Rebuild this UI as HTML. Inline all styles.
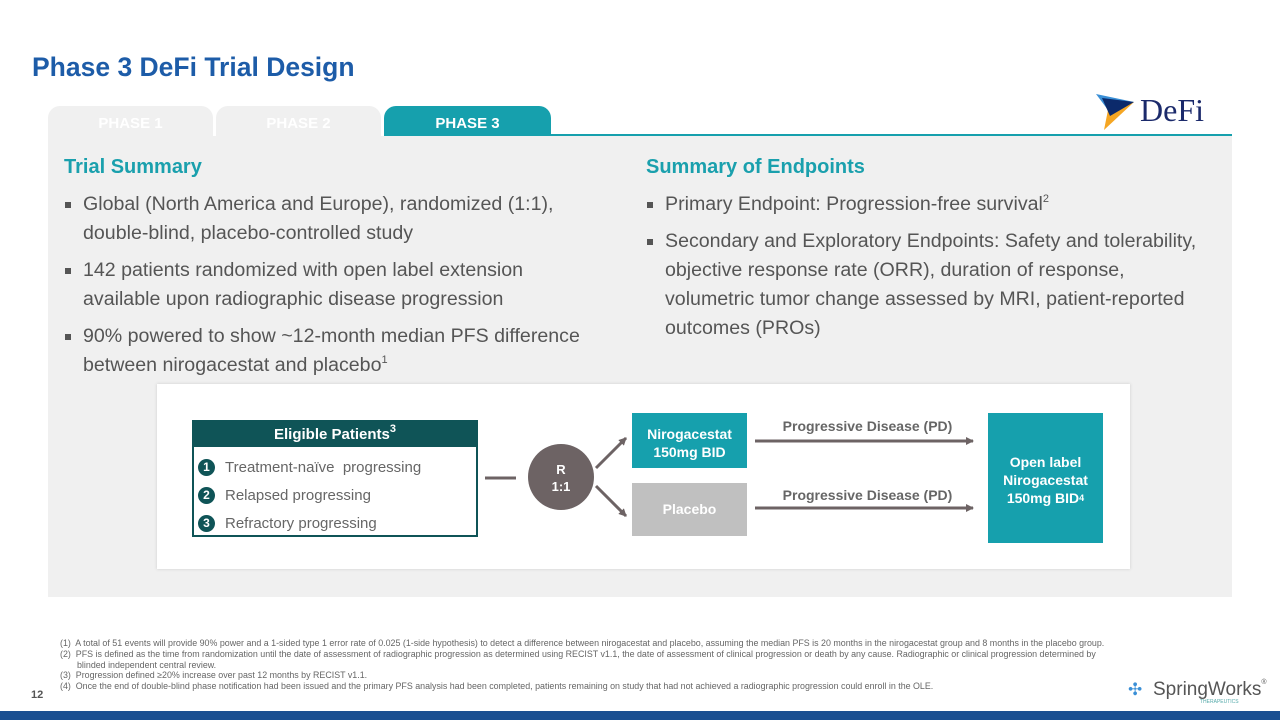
<!DOCTYPE html>
<html><head><meta charset="utf-8"><style>
*{margin:0;padding:0;box-sizing:border-box}
body{width:1280px;height:720px;position:relative;background:#fff;font-family:"Liberation Sans",Arial,sans-serif;overflow:hidden}
.a{position:absolute}
h1{position:absolute;left:32px;top:52px;font-size:26.5px;color:#1d5ca8;font-weight:bold}
.tab{position:absolute;top:106px;height:30px;width:165px;border-radius:12px 12px 0 0;background:#f0f0f0;color:#fff;font-size:15px;font-weight:bold;text-align:center;line-height:36px}
.panel{position:absolute;left:48px;top:136px;width:1184px;height:461px;background:#f0f0f0}
.h2{position:absolute;font-size:20px;font-weight:bold;color:#1aa0ad}
ul{position:absolute;list-style:none;font-size:19.6px;color:#555;line-height:29px}
li{position:relative;padding-left:19px;margin-bottom:8px}
li:before{content:"";position:absolute;left:1px;top:12px;width:6px;height:6px;background:#555}
sup{font-size:11px;vertical-align:top;line-height:18px}
.num{display:inline-block;width:17px;height:17px;border-radius:50%;background:#0f5457;color:#fff;font-size:12px;font-weight:bold;text-align:center;line-height:17px;margin-right:10px;vertical-align:1px}
.fn{position:absolute;left:60px;top:638px;font-size:8.9px;color:#666;line-height:10.8px;width:1045px}
.fn div{padding-left:17px;text-indent:-17px}
</style></head><body>
<h1>Phase 3 DeFi Trial Design</h1>
<div class="tab" style="left:48px">PHASE 1</div>
<div class="tab" style="left:216px">PHASE 2</div>
<div class="tab" style="left:384px;width:167px;background:#16a0ad;line-height:36px">PHASE 3</div>
<div class="a" style="left:384px;top:134px;width:848px;height:3px;background:#16a0ad"></div>
<svg class="a" style="left:1094px;top:92px" width="42" height="40"><polygon points="2,2 40,10 14,18" fill="#3a8fd6"/><polygon points="14,18 40,10 10,38" fill="#f5a623"/><polygon points="8,6 40,10 16,24" fill="#0b2a6b"/></svg>
<div class="a" style="left:1140px;top:92px;font-family:'Liberation Serif',serif;font-size:32px;color:#1b2a6b">DeFi</div>
<div class="panel"></div>
<div class="h2" style="left:64px;top:156px">Trial Summary</div>
<div class="h2" style="left:646px;top:156px">Summary of Endpoints</div>
<ul style="left:64px;top:190px;width:540px">
<li>Global (North America and Europe), randomized (1:1), double-blind, placebo-controlled study</li>
<li>142 patients randomized with open label extension available upon radiographic disease progression</li>
<li>90% powered to show ~12-month median PFS difference between nirogacestat and placebo<sup>1</sup></li>
</ul>
<ul style="left:646px;top:190px;width:572px">
<li>Primary Endpoint: Progression-free survival<sup>2</sup></li>
<li>Secondary and Exploratory Endpoints: Safety and tolerability, objective response rate (ORR), duration of response, volumetric tumor change assessed by MRI, patient-reported outcomes (PROs)</li>
</ul>
<div class="a" style="left:157px;top:384px;width:973px;height:185px;background:#fff;box-shadow:0 0 3px #ccc"></div>
<div class="a" style="left:192px;top:420px;width:286px;height:117px;border:2px solid #0f5457"></div>
<div class="a" style="left:192px;top:420px;width:286px;height:27px;background:#0f5457;color:#fff;font-weight:bold;font-size:15px;text-align:center;line-height:30px">Eligible Patients<sup>3</sup></div>
<div class="a" style="left:198px;top:454px;font-size:15px;color:#666;line-height:28px">
<div><span class="num">1</span>Treatment-naïve &nbsp;progressing</div>
<div><span class="num">2</span>Relapsed progressing</div>
<div><span class="num">3</span>Refractory progressing</div></div>
<svg class="a" style="left:0;top:0" width="1280" height="720">
<defs><marker id="m" markerWidth="8" markerHeight="8" refX="7" refY="4" orient="auto" markerUnits="userSpaceOnUse"><polygon points="0,0 8,4 0,8" fill="#6d6364"/></marker></defs>
<line x1="485" y1="478" x2="516" y2="478" stroke="#6d6364" stroke-width="3"/>
<circle cx="561" cy="477" r="33" fill="#6d6364"/>
<line x1="596" y1="468" x2="626" y2="438" stroke="#6d6364" stroke-width="3" marker-end="url(#m)"/>
<line x1="596" y1="486" x2="626" y2="516" stroke="#6d6364" stroke-width="3" marker-end="url(#m)"/>
<line x1="755" y1="441" x2="973" y2="441" stroke="#6d6364" stroke-width="3" marker-end="url(#m)"/>
<line x1="755" y1="508" x2="973" y2="508" stroke="#6d6364" stroke-width="3" marker-end="url(#m)"/>
</svg>
<div class="a" style="left:528px;top:461px;width:66px;text-align:center;color:#fff;font-weight:bold;font-size:13px;line-height:17px">R<br>1:1</div>
<div class="a" style="left:632px;top:413px;width:115px;height:55px;background:#16a0ad;color:#fff;font-weight:bold;font-size:14px;text-align:center;line-height:18px;padding-top:12px">Nirogacestat<br>150mg BID</div>
<div class="a" style="left:632px;top:483px;width:115px;height:53px;background:#c0c0c0;color:#fff;font-weight:bold;font-size:14px;text-align:center;line-height:53px">Placebo</div>
<div class="a" style="left:755px;top:418px;width:225px;text-align:center;color:#666;font-weight:bold;font-size:14px">Progressive Disease (PD)</div>
<div class="a" style="left:755px;top:487px;width:225px;text-align:center;color:#666;font-weight:bold;font-size:14px">Progressive Disease (PD)</div>
<div class="a" style="left:988px;top:413px;width:115px;height:130px;background:#16a0ad;color:#fff;font-weight:bold;font-size:14px;text-align:center;line-height:18px;padding-top:40px">Open label<br>Nirogacestat<br>150mg BID<sup style="font-size:9px">4</sup></div>
<div class="fn">
<div>(1)&nbsp; A total of 51 events will provide 90% power and a 1-sided type 1 error rate of 0.025 (1-side hypothesis) to detect a difference between nirogacestat and placebo, assuming the median PFS is 20 months in the nirogacestat group and 8 months in the placebo group.</div>
<div>(2)&nbsp; PFS is defined as the time from randomization until the date of assessment of radiographic progression as determined using RECIST v1.1, the date of assessment of clinical progression or death by any cause. Radiographic or clinical progression determined by blinded independent central review.</div>
<div>(3)&nbsp; Progression defined ≥20% increase over past 12 months by RECIST v1.1.</div>
<div>(4)&nbsp; Once the end of double-blind phase notification had been issued and the primary PFS analysis had been completed, patients remaining on study that had not achieved a radiographic progression could enroll in the OLE.</div>
</div>
<div class="a" style="left:31px;top:689px;font-size:11px;font-weight:bold;color:#555">12</div>
<div class="a" style="left:1128px;top:680px;font-size:17px;color:#3a8fd6">✣</div>
<div class="a" style="left:1153px;top:679px;font-size:19px;color:#555">SpringWorks<span style="font-size:7px;vertical-align:top">®</span></div>
<div class="a" style="left:1200px;top:699px;font-size:5px;color:#5aa">THERAPEUTICS</div>
<div class="a" style="left:0;top:711px;width:1280px;height:9px;background:#1a4f91"></div>
</body></html>
